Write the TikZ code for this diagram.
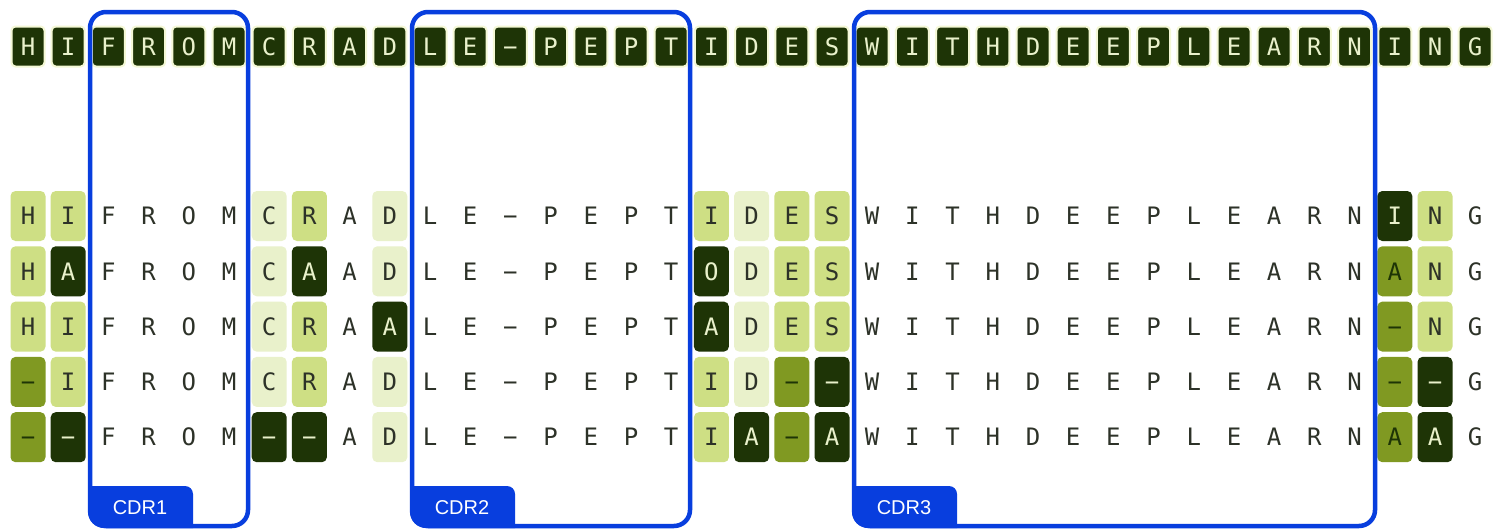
\documentclass[tikz,border=0pt]{standalone}
\usepackage{fontspec}
\setmainfont{Liberation Sans}
\newfontfamily\seqfont{DejaVu Sans Mono}
\definecolor{resdark}{RGB}{30,52,6}
\definecolor{resmid}{RGB}{128,153,34}
\definecolor{reslight}{RGB}{206,223,132}
\definecolor{respale}{RGB}{233,241,203}
\definecolor{restext}{RGB}{45,50,40}
\definecolor{reshalo}{RGB}{244,248,214}
\definecolor{cdrblue}{RGB}{8,62,222}
\newcommand\gapres{\char"2212}

\begin{document}
\begin{tikzpicture}[
  x=1pt, y=-1pt,
  topres/.style={rectangle, rounded corners=4pt, fill=resdark, draw=reshalo, line width=2pt,
    minimum width=33pt, minimum height=40pt, inner sep=0pt, text=respale,
    text height=17.5pt, text depth=0pt, font=\seqfont\fontsize{24}{24}\selectfont},
  cell/.style={rectangle, rounded corners=5pt, minimum width=35pt, minimum height=50pt,
    inner sep=0pt, text=restext, text height=17.5pt, text depth=0pt,
    font=\seqfont\fontsize{24}{24}\selectfont},
  tone-n/.style={},
  tone-p/.style={fill=respale},
  tone-l/.style={fill=reslight},
  tone-m/.style={fill=resmid, text=resdark},
  tone-d/.style={fill=resdark, text=respale},
  cdrframe/.style={draw=cdrblue, line width=4.5pt, rounded corners=16pt},
  cdrtag/.style={text=white, font=\fontsize{20}{20}\selectfont}
]
\useasboundingbox[fill=white] (0,0) rectangle (1495,530);

% input sequence
\foreach \ch [count=\i from 0] in {H,I,F,R,O,M,C,R,A,D,L,E,\gapres,P,E,P,T,I,D,E,S,W,I,T,H,D,E,E,P,L,E,A,R,N,I,N,G}
  \node[topres] (top-\i) at (28+40.2*\i,46.5) {\ch};

% designed variants
\foreach \row [count=\r from 0] in {
  {H/l,I/l,F/n,R/n,O/n,M/n,C/p,R/l,A/n,D/p,L/n,E/n,\gapres/n,P/n,E/n,P/n,T/n,I/l,D/p,E/l,S/l,W/n,I/n,T/n,H/n,D/n,E/n,E/n,P/n,L/n,E/n,A/n,R/n,N/n,I/d,N/l,G/n},
  {H/l,A/d,F/n,R/n,O/n,M/n,C/p,A/d,A/n,D/p,L/n,E/n,\gapres/n,P/n,E/n,P/n,T/n,O/d,D/p,E/l,S/l,W/n,I/n,T/n,H/n,D/n,E/n,E/n,P/n,L/n,E/n,A/n,R/n,N/n,A/m,N/l,G/n},
  {H/l,I/l,F/n,R/n,O/n,M/n,C/p,R/l,A/n,A/d,L/n,E/n,\gapres/n,P/n,E/n,P/n,T/n,A/d,D/p,E/l,S/l,W/n,I/n,T/n,H/n,D/n,E/n,E/n,P/n,L/n,E/n,A/n,R/n,N/n,\gapres/m,N/l,G/n},
  {\gapres/m,I/l,F/n,R/n,O/n,M/n,C/p,R/l,A/n,D/p,L/n,E/n,\gapres/n,P/n,E/n,P/n,T/n,I/l,D/p,\gapres/m,\gapres/d,W/n,I/n,T/n,H/n,D/n,E/n,E/n,P/n,L/n,E/n,A/n,R/n,N/n,\gapres/m,\gapres/d,G/n},
  {\gapres/m,\gapres/d,F/n,R/n,O/n,M/n,\gapres/d,\gapres/d,A/n,D/p,L/n,E/n,\gapres/n,P/n,E/n,P/n,T/n,I/l,A/d,\gapres/m,A/d,W/n,I/n,T/n,H/n,D/n,E/n,E/n,P/n,L/n,E/n,A/n,R/n,N/n,A/m,A/d,G/n}}
  \foreach \ch/\cl [count=\i from 0] in \row
    \node[cell, tone-\cl] (r\r-\i) at (28+40.2*\i,216+55.3*\r) {\ch};

% CDR frames
\foreach \lab/\xa/\xb in {CDR1/90/248, CDR2/412/690, CDR3/854/1375} {
  \begin{scope}
    \clip[rounded corners=16pt] (\xa-2,10) rectangle (\xb+2,528);
    \fill[cdrblue, rounded corners=8pt] (\xa-30,486) rectangle (\xa+103,560);
  \end{scope}
  \node[cdrtag] (\lab) at (\xa+50,508) {\lab};
  \draw[cdrframe] (\xa,12) rectangle (\xb,526);
}
\end{tikzpicture}
\end{document}
